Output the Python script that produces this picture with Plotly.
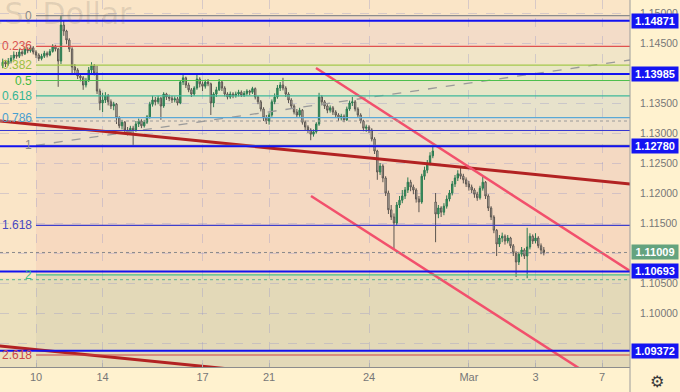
import pandas as pd
import plotly.graph_objects as go

# ---------------- data (EUR/USD, 2h candles) ----------------
session_days = pd.bdate_range('2022-02-09', '2022-03-03')

closes = [
    1.1418, 1.1415, 1.1420, 1.1425, 1.1430, 1.1428, 1.1435, 1.1432, 1.1440, 1.1437, 1.1442, 1.1435,
    1.1430, 1.1424, 1.1428, 1.1433, 1.1430, 1.1436, 1.1445, 1.1440, 1.1420, 1.1480, 1.1470, 1.1455,
    1.1440, 1.1410, 1.1405, 1.1395, 1.1392, 1.1380, 1.1388, 1.1405, 1.1412, 1.1400, 1.1370, 1.1350,
    1.1355, 1.1362, 1.1352, 1.1345, 1.1348, 1.1325, 1.1312, 1.1318, 1.1305, 1.1300, 1.1308, 1.1305,
    1.1315, 1.1320, 1.1312, 1.1318, 1.1327, 1.1348, 1.1355, 1.1352, 1.1358, 1.1345, 1.1365, 1.1360,
    1.1358, 1.1355, 1.1357, 1.1350, 1.1385, 1.1392, 1.1380, 1.1372, 1.1365, 1.1375, 1.1390, 1.1382,
    1.1378, 1.1385, 1.1382, 1.1350, 1.1365, 1.1372, 1.1385, 1.1375, 1.1365, 1.1360, 1.1365, 1.1362,
    1.1365, 1.1368, 1.1363, 1.1366, 1.1370, 1.1368, 1.1374, 1.1360, 1.1352, 1.1340, 1.1325, 1.1320,
    1.1330, 1.1352, 1.1360, 1.1375, 1.1380, 1.1375, 1.1365, 1.1355, 1.1345, 1.1335, 1.1330, 1.1338,
    1.1318, 1.1310, 1.1305, 1.1298, 1.1302, 1.1315, 1.1360, 1.1352, 1.1345, 1.1338, 1.1342, 1.1335,
    1.1330, 1.1325, 1.1328, 1.1322, 1.1340, 1.1350, 1.1352, 1.1340, 1.1330, 1.1320, 1.1308, 1.1310,
    1.1305, 1.1290, 1.1270, 1.1235, 1.1245, 1.1225, 1.1200, 1.1172, 1.1160, 1.1150, 1.1180, 1.1188,
    1.1195, 1.1205, 1.1218, 1.1210, 1.1205, 1.1190, 1.1185, 1.1228, 1.1238, 1.1250, 1.1262, 1.1270,
    1.1165, 1.1175, 1.1168, 1.1178, 1.1190, 1.1200, 1.1215, 1.1225, 1.1232, 1.1228, 1.1222, 1.1215,
    1.1210, 1.1205, 1.1198, 1.1192, 1.1208, 1.1218, 1.1195, 1.1175, 1.1160, 1.1138, 1.1115, 1.1125,
    1.1128, 1.1120, 1.1125, 1.1112, 1.1100, 1.1085, 1.1098, 1.1105, 1.1095, 1.1110, 1.1128, 1.1120,
    1.1125, 1.1112, 1.1105, 1.11009,
]
highs = [
    1.1424, 1.1422, 1.1425, 1.1430, 1.1436, 1.1435, 1.1440, 1.1438, 1.1444, 1.1443, 1.1446, 1.1445,
    1.1438, 1.1433, 1.1432, 1.1437, 1.1436, 1.1440, 1.1448, 1.1447, 1.1442, 1.1495, 1.1488, 1.1472,
    1.1458, 1.1443, 1.1415, 1.1408, 1.1400, 1.1395, 1.1392, 1.1410, 1.1418, 1.1415, 1.1412, 1.1374,
    1.1367, 1.1368, 1.1365, 1.1356, 1.1352, 1.1350, 1.1328, 1.1322, 1.1320, 1.1310, 1.1312, 1.1312,
    1.1320, 1.1324, 1.1323, 1.1322, 1.1330, 1.1352, 1.1362, 1.1360, 1.1362, 1.1360, 1.1368, 1.1367,
    1.1364, 1.1362, 1.1361, 1.1360, 1.1388, 1.1398, 1.1394, 1.1384, 1.1375, 1.1378, 1.1397, 1.1393,
    1.1386, 1.1389, 1.1390, 1.1384, 1.1368, 1.1377, 1.1390, 1.1387, 1.1378, 1.1368, 1.1369, 1.1368,
    1.1369, 1.1372, 1.1371, 1.1370, 1.1373, 1.1372, 1.1377, 1.1376, 1.1362, 1.1355, 1.1343, 1.1330,
    1.1334, 1.1356, 1.1366, 1.1380, 1.1385, 1.1392, 1.1378, 1.1368, 1.1358, 1.1348, 1.1340, 1.1342,
    1.1340, 1.1321, 1.1313, 1.1308, 1.1306, 1.1318, 1.1367, 1.1363, 1.1355, 1.1348, 1.1346, 1.1345,
    1.1338, 1.1333, 1.1332, 1.1331, 1.1344, 1.1354, 1.1360, 1.1355, 1.1343, 1.1333, 1.1322, 1.1314,
    1.1313, 1.1308, 1.1293, 1.1272, 1.1250, 1.1248, 1.1228, 1.1204, 1.1180, 1.1166, 1.1185, 1.1195,
    1.1205, 1.1210, 1.1226, 1.1222, 1.1214, 1.1208, 1.1195, 1.1232, 1.1244, 1.1255, 1.1268, 1.1278,
    1.1200, 1.1180, 1.1178, 1.1183, 1.1196, 1.1205, 1.1220, 1.1230, 1.1238, 1.1242, 1.1232, 1.1226,
    1.1220, 1.1214, 1.1208, 1.1202, 1.1212, 1.1227, 1.1220, 1.1198, 1.1178, 1.1163, 1.1140, 1.1130,
    1.1134, 1.1131, 1.1130, 1.1127, 1.1115, 1.1103, 1.1102, 1.1110, 1.1108, 1.1142, 1.1133, 1.1131,
    1.1133, 1.1128, 1.1116, 1.1110,
]
lows = [
    1.1408, 1.1410, 1.1412, 1.1416, 1.1421, 1.1424, 1.1425, 1.1428, 1.1430, 1.1433, 1.1434, 1.1431,
    1.1425, 1.1420, 1.1421, 1.1425, 1.1426, 1.1428, 1.1434, 1.1436, 1.1377, 1.1415, 1.1462, 1.1448,
    1.1435, 1.1400, 1.1398, 1.1390, 1.1386, 1.1372, 1.1376, 1.1385, 1.1400, 1.1396, 1.1365, 1.1338,
    1.1335, 1.1350, 1.1346, 1.1340, 1.1338, 1.1315, 1.1308, 1.1306, 1.1300, 1.1296, 1.1297, 1.1280,
    1.1302, 1.1310, 1.1308, 1.1309, 1.1315, 1.1324, 1.1344, 1.1346, 1.1348, 1.1322, 1.1342, 1.1355,
    1.1353, 1.1350, 1.1351, 1.1346, 1.1348, 1.1380, 1.1375, 1.1368, 1.1360, 1.1362, 1.1372, 1.1376,
    1.1370, 1.1374, 1.1378, 1.1330, 1.1343, 1.1360, 1.1370, 1.1370, 1.1361, 1.1356, 1.1357, 1.1358,
    1.1359, 1.1361, 1.1360, 1.1360, 1.1362, 1.1363, 1.1365, 1.1356, 1.1348, 1.1336, 1.1320, 1.1315,
    1.1314, 1.1327, 1.1348, 1.1357, 1.1370, 1.1371, 1.1360, 1.1350, 1.1340, 1.1331, 1.1326, 1.1327,
    1.1314, 1.1305, 1.1300, 1.1288, 1.1294, 1.1299, 1.1312, 1.1346, 1.1340, 1.1333, 1.1334, 1.1330,
    1.1325, 1.1320, 1.1321, 1.1318, 1.1320, 1.1337, 1.1345, 1.1336, 1.1325, 1.1316, 1.1303, 1.1302,
    1.1300, 1.1286, 1.1265, 1.1222, 1.1230, 1.1218, 1.1195, 1.1165, 1.1155, 1.1106, 1.1145, 1.1175,
    1.1183, 1.1190, 1.1200, 1.1203, 1.1198, 1.1184, 1.1168, 1.1182, 1.1222, 1.1233, 1.1246, 1.1258,
    1.1118, 1.1158, 1.1160, 1.1163, 1.1174, 1.1186, 1.1196, 1.1210, 1.1220, 1.1223, 1.1216, 1.1210,
    1.1204, 1.1200, 1.1192, 1.1187, 1.1189, 1.1204, 1.1190, 1.1170, 1.1155, 1.1133, 1.1095, 1.1110,
    1.1118, 1.1114, 1.1116, 1.1108, 1.1095, 1.1060, 1.1080, 1.1094, 1.1090, 1.1058, 1.1106, 1.1115,
    1.1116, 1.1108, 1.1098, 1.1096,
]
first_open = 1.1412
gap_opens = {156: 1.1185}          # Monday 28 Feb gap open

# horizontal rays (blue) with axis labels
blue_levels = [1.14871, 1.13985, 1.12780, 1.10693, 1.09372]
blue_labels = ['1.14871', '1.13985', '1.12780', '1.10693', '1.09372']
thin_blue_level = 1.13042
dotted_levels = [1.13200, 1.10555]
last_price = 1.11009

# Fibonacci extension tool
fib_start = '2022-02-10'
fib_top = 1.14955
fib_span = 0.0216
fib_ratios = [0, 0.236, 0.382, 0.5, 0.618, 0.786, 1, 1.618, 2, 2.618]
fib_texts = ['0', '0.236', '0.382', '0.5', '0.618', '0.786', '1', '1.618', '2', '2.618']

# trend lines: (date, price) endpoints
trend_dark_1 = [('2022-02-08', 1.13251), ('2022-03-08', 1.12141)]
trend_dark_2 = [('2022-02-08', 1.09501), ('2022-02-28', 1.08723)]
channel_up = [('2022-02-22 09:47', 1.14083), ('2022-03-08', 1.10642)]
channel_dn = [('2022-02-22 06:12', 1.11950), ('2022-03-07', 1.08833)]
dashed_line = [('2022-02-10', 1.12795), ('2022-03-08', 1.14230)]

tick_dates = ['2022-02-10', '2022-02-14', '2022-02-17', '2022-02-21', '2022-02-24',
              '2022-03-01', '2022-03-03', '2022-03-07']
tick_texts = ['10', '14', '17', '21', '24', 'Mar', '3', '7']
price_ticks = [1.095, 1.100, 1.105, 1.110, 1.115, 1.120, 1.125, 1.130, 1.135, 1.140, 1.145, 1.150]
hidden_price_ticks = [1.095, 1.110, 1.140]   # covered by the price labels on the axis

# ---------------- build ----------------
times = [d + pd.Timedelta(hours=2 * h) for d in session_days for h in range(12)][:len(closes)]
opens = [first_open] + closes[:-1]
for k, v in gap_opens.items():
    opens[k] = v

fib_prices = [fib_top - r * fib_span for r in fib_ratios]
fib_line_colors = ['#8c8c8c', '#e0524f', '#a3c84b', '#4dbf4d', '#3db89a', '#5aa9d6',
                   '#8c8c8c', '#3f3fcc', '#44c08a', '#cc4444']
fib_text_colors = ['#8a8a8a', '#d9534f', '#9cc043', '#43b943', '#35b595', '#4a9fd0',
                   '#8a8a8a', '#4848c0', '#3cbf88', '#cc4848']
fib_band_colors = ['#f3dcc8', '#f1e5c8', '#e9e6c5', '#e6e6c8', '#e7e2cb', '#eddfcb',
                   '#f4d9c2', '#f7d9bf', '#e3d9b8']

fig = go.Figure()

fig.add_trace(go.Candlestick(
    x=times, open=opens, high=highs, low=lows, close=closes,
    increasing=dict(line=dict(color='#2b7a50', width=1), fillcolor='#3c9a63'),
    decreasing=dict(line=dict(color='#5c5650', width=1), fillcolor='#d4cbc0'),
    whiskerwidth=0, hoverinfo='skip', showlegend=False,
))

def add_seg(pts, color, width, dash='solid'):
    fig.add_trace(go.Scatter(
        x=[p[0] for p in pts], y=[p[1] for p in pts], mode='lines',
        line=dict(color=color, width=width, dash=dash),
        hoverinfo='skip', showlegend=False))

add_seg(dashed_line, '#9a9a9a', 1.3, 'dash')
add_seg(trend_dark_1, '#b22222', 3)
add_seg(trend_dark_2, '#b22222', 3)
add_seg(channel_up, '#f2506c', 2.5)
add_seg(channel_dn, '#f2506c', 2.5)

shapes = []
# background zones
shapes.append(dict(type='rect', xref='paper', x0=0, x1=1, yref='y', y0=1.085, y1=1.10580,
                   fillcolor='#ebe0bd', line=dict(width=0), layer='below'))
for i, col in enumerate(fib_band_colors):
    shapes.append(dict(type='rect', xref='x', x0=fib_start, x1='2022-03-09',
                       yref='y', y0=fib_prices[i + 1], y1=fib_prices[i],
                       fillcolor=col, line=dict(width=0), layer='below'))
shapes.append(dict(type='rect', xref='x', x0=fib_start, x1='2022-03-09',
                   yref='y', y0=1.085, y1=fib_prices[-1],
                   fillcolor='#e3d9b8', line=dict(width=0), layer='below'))
# fib level lines
for p, col in zip(fib_prices, fib_line_colors):
    shapes.append(dict(type='line', xref='x', x0=fib_start, x1='2022-03-09', yref='y', y0=p, y1=p,
                       line=dict(color=col, width=1.2), layer='above'))
# dotted lines
for p, col in zip(dotted_levels, ['#9a9a9a', '#5cb48e']):
    shapes.append(dict(type='line', xref='paper', x0=0, x1=1, yref='y', y0=p, y1=p,
                       line=dict(color=col, width=1, dash='dot'), layer='above'))
shapes.append(dict(type='line', xref='paper', x0=0, x1=1, yref='y', y0=last_price, y1=last_price,
                   line=dict(color='#8a8a8a', width=1, dash='dot'), layer='above'))
# thin blue line
shapes.append(dict(type='line', xref='paper', x0=0, x1=1, yref='y', y0=thin_blue_level,
                   y1=thin_blue_level, line=dict(color='#3434d0', width=1), layer='above'))
# thick blue rays
for p in blue_levels:
    shapes.append(dict(type='line', xref='paper', x0=0, x1=1, yref='y', y0=p, y1=p,
                       line=dict(color='#1212f0', width=2), layer='above'))
# right axis separator down to bottom
shapes.append(dict(type='line', xref='paper', x0=1, x1=1, yref='paper', y0=-0.08, y1=1,
                   line=dict(color='#9c9c9c', width=1), layer='above'))

annotations = []
annotations.append(dict(text='U.S. Dollar', xref='paper', x=134 / 630, xanchor='right',
                        yref='paper', y=1, yanchor='top', yshift=6, showarrow=False,
                        font=dict(family='DejaVu Sans', size=30, color='rgba(90,90,90,0.16)')))
for p, t, col in zip(fib_prices, fib_texts, fib_text_colors):
    annotations.append(dict(text=t, xref='x', x=fib_start, xanchor='right', xshift=-2,
                            yref='y', y=p, yanchor='middle', showarrow=False,
                            font=dict(family='Liberation Sans', size=12, color=col)))
for p, t in zip(blue_levels, blue_labels):
    annotations.append(dict(text='<b>%s</b>' % t, xref='paper', x=1, xanchor='left', xshift=1,
                            yref='y', y=p, yanchor='middle', showarrow=False,
                            bgcolor='#1414f2', width=46, height=14, borderpad=0,
                            font=dict(family='Liberation Sans', size=11, color='white')))
annotations.append(dict(text='<b>%.5f</b>' % last_price, xref='paper', x=1, xanchor='left', xshift=1,
                        yref='y', y=last_price, yanchor='middle', showarrow=False,
                        bgcolor='#64a37f', width=46, height=14, borderpad=0,
                        font=dict(family='Liberation Sans', size=11, color='white')))
annotations.append(dict(text='⚙', xref='paper', x=1, xanchor='left', xshift=18,
                        yref='paper', y=0, yanchor='top', yshift=-3, showarrow=False,
                        font=dict(family='DejaVu Sans', size=16, color='#3a3a3a')))

fig.update_layout(
    width=680, height=392,
    margin=dict(l=0, r=50, t=0, b=25),
    paper_bgcolor='#fff2cf',
    plot_bgcolor='#fae5c7',
    shapes=shapes, annotations=annotations,
    showlegend=False,
    font=dict(family='Liberation Sans', color='#777777'),
)
fig.update_xaxes(
    type='date', range=['2022-02-08 22:03', '2022-03-07 20:07'],
    rangebreaks=[dict(bounds=['sat', 'mon'])],
    rangeslider=dict(visible=False),
    tickvals=tick_dates, ticktext=tick_texts,
    tickfont=dict(size=11, color='#777777'),
    showgrid=True, gridcolor='rgba(150,150,200,0.35)', griddash='dash', gridwidth=1,
    showline=True, linecolor='#8c8c8c', linewidth=1,
    ticks='inside', ticklen=4, tickcolor='#b0b0b0',
    zeroline=False, fixedrange=True,
)
fig.update_yaxes(
    side='right', range=[1.091, 1.15217],
    tickvals=price_ticks,
    ticktext=['' if v in hidden_price_ticks else '%.5f' % v for v in price_ticks],
    tickfont=dict(size=10.5, color='#777777'),
    showgrid=True, gridcolor='rgba(150,150,200,0.35)', griddash='dash', gridwidth=1,
    showline=False, ticks='', ticklabelstandoff=9,
    zeroline=False, fixedrange=True,
)

fig.write_html('out.html')
